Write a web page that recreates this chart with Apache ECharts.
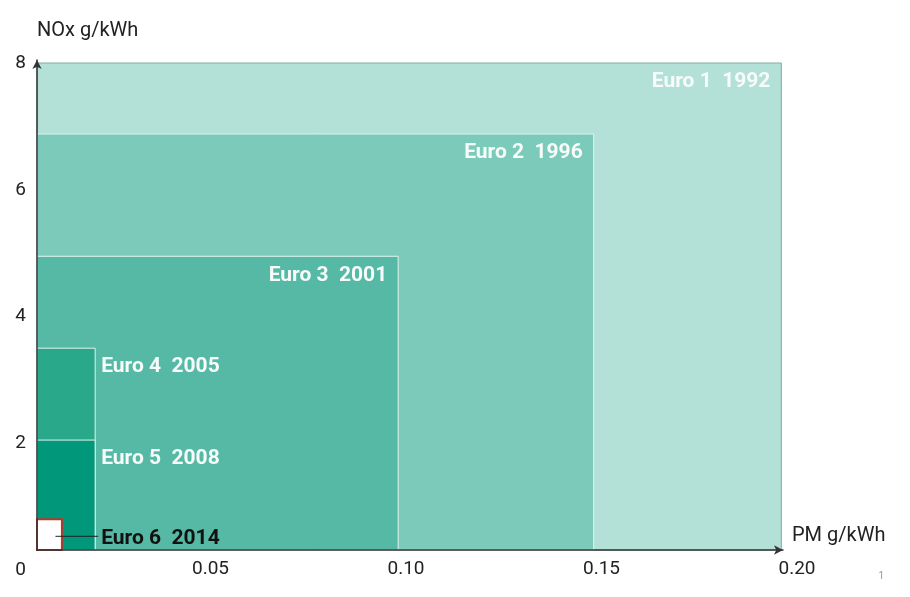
<!DOCTYPE html>
<html lang="en">
<head>
  <meta charset="UTF-8">
  <title>Euro emission limits</title>
  <style>
    body { margin: 0; }
    #chart { width: 910px; height: 597px; }
  </style>
</head>
<body>
  <div id="chart"></div>
  <script src="https://cdn.jsdelivr.net/npm/echarts@6/dist/echarts.min.js"></script>
  <script>
    // stage limits (PM along x, NOx along y)
    const stages = ['Euro 1', 'Euro 2', 'Euro 3', 'Euro 4', 'Euro 5', 'Euro 6'];
    const years = ['1992', '1996', '2001', '2005', '2008', '2014'];
    const pmLimits = [0.196, 0.148, 0.098, 0.0205, 0.0205, 0.012];
    const noxLimits = [8, 6.88, 4.95, 3.5, 2.05, 0.8];

    const xTicks = [0, 0.05, 0.10, 0.15, 0.20];
    const yTicks = [0, 2, 4, 6, 8];

    const fills = ['#b3e0d7', '#7ccbba', '#56b9a5', '#2aa88a', '#00977a', '#ffffff'];

    // grid carrying the scale + tick labels, and a second one for the drawn axis lines
    const gridMain = { left: 15, right: 113, top: 63, bottom: 27 };
    const gridAxes = { left: 37, right: 127, top: 60, bottom: 47 };
    const INSET_X = gridAxes.left - gridMain.left;
    const INSET_Y = gridAxes.bottom - gridMain.bottom;
    const NARROW = 0.05; // boxes thinner than this get their label outside

    const font = 'Roboto, "Noto Sans", sans-serif';
    const outsidePm = Math.max(...pmLimits.filter(v => v < NARROW));
    const last = stages.length - 1;

    const data = stages.map((s, i) => [pmLimits[i], noxLimits[i], i]);

    function renderItem(params, api) {
      const i = api.value(2);
      const origin = api.coord([0, 0]);
      const corner = api.coord([api.value(0), api.value(1)]);
      const x0 = origin[0] + INSET_X;
      const y0 = origin[1] - INSET_Y;
      const label = stages[i] + '  ' + years[i];
      const ty = corner[1] + 19;
      const children = [];

      let stroke = '#e2f4ef', lw = 1;
      if (i === 0) stroke = '#7fae9f';
      if (i === last) { stroke = '#b5382c'; lw = 2; }

      children.push({
        type: 'rect',
        shape: { x: x0, y: corner[1], width: corner[0] - x0, height: y0 - corner[1] },
        style: { fill: fills[i], stroke: stroke, lineWidth: lw }
      });

      if (api.value(0) >= NARROW) {
        children.push({
          type: 'text',
          style: {
            x: corner[0] - 11, y: ty, text: label,
            fill: '#f7fcfa', font: 'bold 21px ' + font,
            align: 'right', verticalAlign: 'middle'
          }
        });
      } else {
        const lx = api.coord([outsidePm, 0])[0] + 6;
        if (i === last) {
          children.push({
            type: 'line',
            shape: { x1: (x0 + corner[0]) / 2 + 6, y1: ty - 2, x2: lx - 3, y2: ty - 2 },
            style: { stroke: '#222', lineWidth: 1 }
          });
        }
        children.push({
          type: 'text',
          style: {
            x: lx, y: ty, text: label,
            fill: i === last ? '#111' : '#f7fcfa', font: 'bold 21px ' + font,
            align: 'left', verticalAlign: 'middle'
          }
        });
      }
      return { type: 'group', children: children };
    }

    const chart = echarts.init(document.getElementById('chart'));
    chart.setOption({
      animation: false,
      backgroundColor: '#ffffff',
      grid: [gridMain, gridAxes],
      xAxis: [
        {
          type: 'value', gridIndex: 0,
          min: xTicks[0], max: xTicks[xTicks.length - 1], interval: 0.05,
          offset: -INSET_Y,
          axisLine: { show: false }, axisTick: { show: false }, splitLine: { show: false },
          axisLabel: {
            margin: 10, color: '#222', fontSize: 19, fontFamily: font,
            showMinLabel: false,
            formatter: v => (v === 0 ? '0' : v.toFixed(2))
          }
        },
        {
          type: 'value', gridIndex: 1, min: 0, max: 1, z: 10,
          name: 'PM g/kWh', nameLocation: 'end', nameGap: 9,
          nameTextStyle: {
            color: '#222', fontSize: 20, fontFamily: font,
            align: 'left', verticalAlign: 'bottom', padding: [0, 0, 4, 0]
          },
          axisLine: {
            show: true, symbol: ['none', 'arrow'], symbolSize: [7, 9],
            lineStyle: { color: '#333', width: 1.5 }
          },
          axisTick: { show: false }, axisLabel: { show: false }, splitLine: { show: false }
        }
      ],
      yAxis: [
        {
          type: 'value', gridIndex: 0,
          min: yTicks[0], max: yTicks[yTicks.length - 1], interval: 2,
          offset: -INSET_X,
          axisLine: { show: false }, axisTick: { show: false }, splitLine: { show: false },
          axisLabel: { margin: 11, color: '#222', fontSize: 19, fontFamily: font }
        },
        {
          type: 'value', gridIndex: 1, min: 0, max: 1, z: 10,
          name: 'NOx g/kWh', nameLocation: 'end', nameGap: 19,
          nameTextStyle: { color: '#222', fontSize: 20, fontFamily: font, align: 'left' },
          axisLine: {
            show: true, symbol: ['none', 'arrow'], symbolSize: [7, 9],
            lineStyle: { color: '#333', width: 1.5 }
          },
          axisTick: { show: false }, axisLabel: { show: false }, splitLine: { show: false }
        }
      ],
      graphic: [{
        type: 'text', right: 26, bottom: 16,
        style: { text: '1', fill: '#999', font: '10px ' + font }
      }],
      series: [{
        type: 'custom',
        xAxisIndex: 0, yAxisIndex: 0,
        renderItem: renderItem,
        encode: { x: 0, y: 1 },
        clip: false,
        data: data
      }]
    });
  </script>
</body>
</html>
